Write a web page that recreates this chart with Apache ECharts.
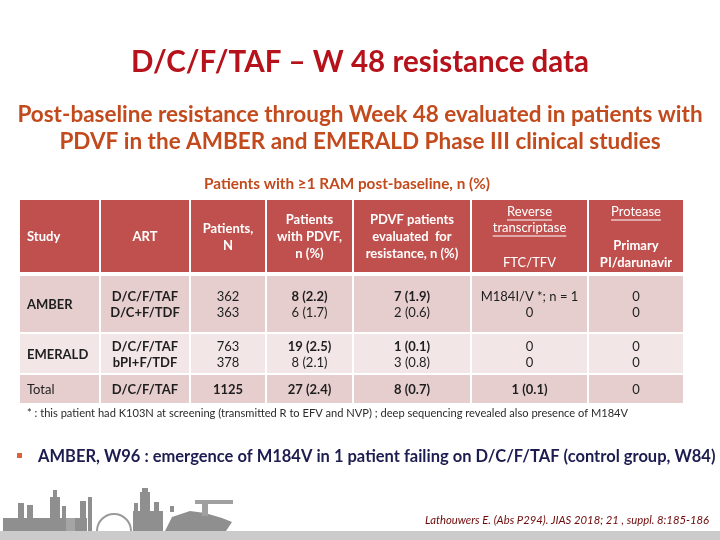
<!DOCTYPE html>
<html>
<head>
<meta charset="utf-8">
<script src="https://cdn.jsdelivr.net/npm/echarts@6/dist/echarts.min.js"></script>
<style>
  html, body { margin: 0; padding: 0; background: #ffffff; }
  #chart { width: 720px; height: 540px; }
</style>
</head>
<body>
<div id="chart"></div>
<script>
// ---------------- DATA ----------------
const titleText = 'D/C/F/TAF \u2013 W 48 resistance data';
const subtitleLines = [
  'Post-baseline resistance through Week 48 evaluated in patients with',
  'PDVF in the AMBER and EMERALD Phase III clinical studies'
];
const tableCaption = 'Patients with \u22651 RAM post-baseline, n (%)';

const headerMain = ['Study', 'ART', 'Patients,\nN', 'Patients\nwith PDVF,\nn (%)', 'PDVF patients\nevaluated  for\nresistance, n (%)', '', ''];
const headerGroup = ['', '', '', '', '', 'Reverse\ntranscriptase', 'Protease'];
const headerSub = ['', '', '', '', '', 'FTC/TFV', 'Primary\nPI/darunavir'];

const studies = ['AMBER', 'EMERALD', 'Total'];
const artArms = [['D/C/F/TAF', 'D/C+F/TDF'], ['D/C/F/TAF', 'bPI+F/TDF'], ['D/C/F/TAF']];
const patientsN = [[362, 363], [763, 378], [1125]];
const pdvfN = [[8, 6], [19, 8], [27]];
const pdvfPct = [[2.2, 1.7], [2.5, 2.1], [2.4]];
const evaluatedN = [[7, 2], [1, 3], [8]];
const evaluatedPct = [[1.9, 0.6], [0.1, 0.8], [0.7]];
const rtResult = [['M184I/V *; n = 1', '0'], ['0', '0'], ['1 (0.1)']];
const proteaseResult = [[0, 0], [0, 0], [0]];

const footnote = '* : this patient had K103N at screening (transmitted R to EFV and NVP) ; deep sequencing revealed also presence of M184V';
const bulletText = 'AMBER, W96 : emergence of M184V in 1 patient failing on D/C/F/TAF (control group, W84)';
const citation = 'Lathouwers E. (Abs P294). JIAS 2018; 21 , suppl. 8:185-186';

// ---------------- LAYOUT / STYLE ----------------
const FONT = 'Lato, "Open Sans", sans-serif';
const colEdges = [0, 81, 171, 247, 334, 452, 569, 665];
const rowTop = [0, 76, 134, 175];
const rowBottom = [72, 132, 173, 203];
const rowFill = ['#c0504d', '#e6cece', '#f2e6e6', '#e6cece'];
// bold flags per body row / column / line
const boldMask = [
  [[1], [1, 1], [0, 0], [1, 0], [1, 0], [0, 0], [0, 0]],
  [[1], [1, 1], [0, 0], [1, 0], [1, 0], [0, 0], [0, 0]],
  [[0], [1], [1], [1], [1], [1], [0]]
];

const mctx = document.createElement('canvas').getContext('2d');
function measure(text, size, weight, style) {
  mctx.font = (style || 'normal') + ' ' + (weight || 'normal') + ' ' + size + 'px ' + FONT;
  return mctx.measureText(text).width;
}
function fitSize(text, width, weight, style) {
  const w = measure(text, 100, weight, style);
  return Math.round(100 * width / w * 10) / 10;
}

function fmtPct(n, p) { return n + ' (' + p.toFixed(1) + ')'; }
function bodyLines(r, c) {
  switch (c) {
    case 0: return [studies[r]];
    case 1: return artArms[r];
    case 2: return patientsN[r].map(String);
    case 3: return pdvfN[r].map((n, i) => fmtPct(n, pdvfPct[r][i]));
    case 4: return evaluatedN[r].map((n, i) => fmtPct(n, evaluatedPct[r][i]));
    case 5: return rtResult[r];
    case 6: return proteaseResult[r].map(String);
  }
}

const cells = [];
for (let r = 0; r < 4; r++) for (let c = 0; c < 7; c++) cells.push([c, r]);

function richText(lines, flags) {
  return lines.map((l, i) => '{' + (flags[i] ? 'b' : 'n') + '|' + l + '}').join('\n');
}

const HS = 13;
function renderItem(params, api) {
  const c = api.value(0), r = api.value(1);
  const p0 = api.coord([colEdges[c], rowTop[r]]);
  const p1 = api.coord([colEdges[c + 1] - 2, rowBottom[r]]);
  const x = p0[0], y = p0[1], w = p1[0] - p0[0], h = p1[1] - p0[1];
  const children = [{ type: 'rect', shape: { x: x, y: y, width: w, height: h }, style: { fill: rowFill[r] } }];
  const leftAlign = c === 0;
  const tx = leftAlign ? x + 7 : x + w / 2;
  if (r === 0) {
    const hs = { fill: '#ffffff', font: 'bold ' + HS + 'px ' + FONT, align: leftAlign ? 'left' : 'center', verticalAlign: 'middle', lineHeight: 17 };
    if (headerMain[c]) {
      children.push({ type: 'text', style: Object.assign({}, hs, { text: headerMain[c], x: tx, y: y + h / 2 + 1 }) });
    }
    if (headerGroup[c]) {
      headerGroup[c].split('\n').forEach((line, i) => {
        const ly = y + 12 + i * 16;
        children.push({ type: 'text', style: Object.assign({}, hs, { text: line, x: tx, y: ly, font: HS + 'px ' + FONT }) });
        const lw = measure(line, HS, 'normal');
        children.push({ type: 'line', shape: { x1: tx - lw / 2, y1: ly + 8, x2: tx + lw / 2, y2: ly + 8 }, style: { stroke: '#ffffff', lineWidth: 1 } });
      });
    }
    if (headerSub[c]) {
      const n = headerSub[c].split('\n').length;
      children.push({ type: 'text', style: Object.assign({}, hs, { text: headerSub[c], x: tx, y: y + 63 - (n - 1) * 8.5, font: (c === 6 ? 'bold ' : '') + HS + 'px ' + FONT }) });
    }
  } else {
    const lines = bodyLines(r - 1, c);
    children.push({
      type: 'text',
      style: {
        text: richText(lines, boldMask[r - 1][c]),
        x: tx, y: y + h / 2 + 1,
        align: leftAlign ? 'left' : 'center', verticalAlign: 'middle',
        rich: {
          b: { fontFamily: FONT, fontSize: 13, fontWeight: 'bold', fill: '#1e1e1e', lineHeight: 16 },
          n: { fontFamily: FONT, fontSize: 13, fill: '#1e1e1e', lineHeight: 16 }
        }
      }
    });
  }
  return { type: 'group', children: children };
}

// ---------------- DECOR (skyline) ----------------
const skyGray = '#8f8f8f';
function rect(x, y, w, h, fill) { return { type: 'rect', silent: true, shape: { x: x, y: y, width: w, height: h }, style: { fill: fill || skyGray } }; }
const skyline = [
  rect(0, 531, 720, 9, '#cbcbcb'),
  rect(3, 518, 84, 13), rect(18, 503, 6, 15), rect(27, 505, 6, 13), rect(50, 497, 10, 21), rect(53, 490, 4, 8),
  rect(62, 506, 4, 12), rect(80, 501, 6, 17), rect(88, 497, 4, 34), rect(66, 518, 9, 13, '#a5a5a5'),
  rect(133, 511, 30, 20), rect(140, 492, 10, 19), rect(142, 488, 6, 5), rect(154, 502, 5, 9), rect(134, 503, 4, 8),
  rect(170, 506, 4, 6),
  { type: 'arc', silent: true, shape: { cx: 114, cy: 531, r: 17, startAngle: Math.PI, endAngle: 2 * Math.PI }, style: { stroke: '#9a9a9a', lineWidth: 2, fill: 'none' } },
  { type: 'polygon', silent: true, shape: { points: [[165, 531], [172, 517], [190, 511], [205, 513], [222, 518], [232, 522], [226, 531]] }, style: { fill: skyGray } },
  rect(195, 500, 38, 4, '#a0a0a0'), rect(202, 500, 6, 16, '#a0a0a0')
];

// ---------------- CHART ----------------
const chart = echarts.init(document.getElementById('chart'), null, { renderer: 'canvas' });

const titleSize = fitSize(titleText, 458, 'bold');
const sub1Size = fitSize(subtitleLines[0], 684, 'bold');
const capSize = fitSize(tableCaption, 286, 'bold');
const footSize = fitSize(footnote, 600, 'normal');
const bulletSize = fitSize(bulletText, 679, 'bold');
const citeSize = fitSize(citation, 284, 'normal', 'italic');

const option = {
  backgroundColor: '#ffffff',
  animation: false,
  grid: { left: 20, top: 200, width: 663, height: 203, containLabel: false },
  xAxis: { type: 'value', min: 0, max: 663, show: false },
  yAxis: { type: 'value', min: 0, max: 203, inverse: true, show: false },
  series: [{
    type: 'custom',
    coordinateSystem: 'cartesian2d',
    renderItem: renderItem,
    data: cells,
    silent: true
  }],
  graphic: [
    { type: 'text', left: 'center', top: 66 - titleSize * 0.62, style: { text: titleText, font: 'bold ' + titleSize + 'px ' + FONT, fill: '#b5121b' } },
    { type: 'text', x: 360, y: 115, style: { text: subtitleLines[0], font: 'bold ' + sub1Size + 'px ' + FONT, fill: '#c24a1c', align: 'center', verticalAlign: 'middle' } },
    { type: 'text', x: 360, y: 142, style: { text: subtitleLines[1], font: 'bold ' + sub1Size + 'px ' + FONT, fill: '#c24a1c', align: 'center', verticalAlign: 'middle' } },
    { type: 'text', x: 347, y: 184, style: { text: tableCaption, font: 'bold ' + capSize + 'px ' + FONT, fill: '#c24a1c', align: 'center', verticalAlign: 'middle' } },
    { type: 'text', x: 27, y: 413, style: { text: footnote, font: footSize + 'px ' + FONT, fill: '#2a2a2a', align: 'left', verticalAlign: 'middle' } },
    { type: 'rect', shape: { x: 17, y: 453, width: 5, height: 5 }, style: { fill: '#e0603a' } },
    { type: 'text', x: 38, y: 457, style: { text: bulletText, font: 'bold ' + bulletSize + 'px ' + FONT, fill: '#1c1c50', align: 'left', verticalAlign: 'middle' } },
    { type: 'text', x: 425, y: 520, style: { text: citation, font: 'italic ' + citeSize + 'px ' + FONT, fill: '#6e0a0a', align: 'left', verticalAlign: 'middle' } }
  ].concat(skyline)
};
chart.setOption(option);
</script>
</body>
</html>
